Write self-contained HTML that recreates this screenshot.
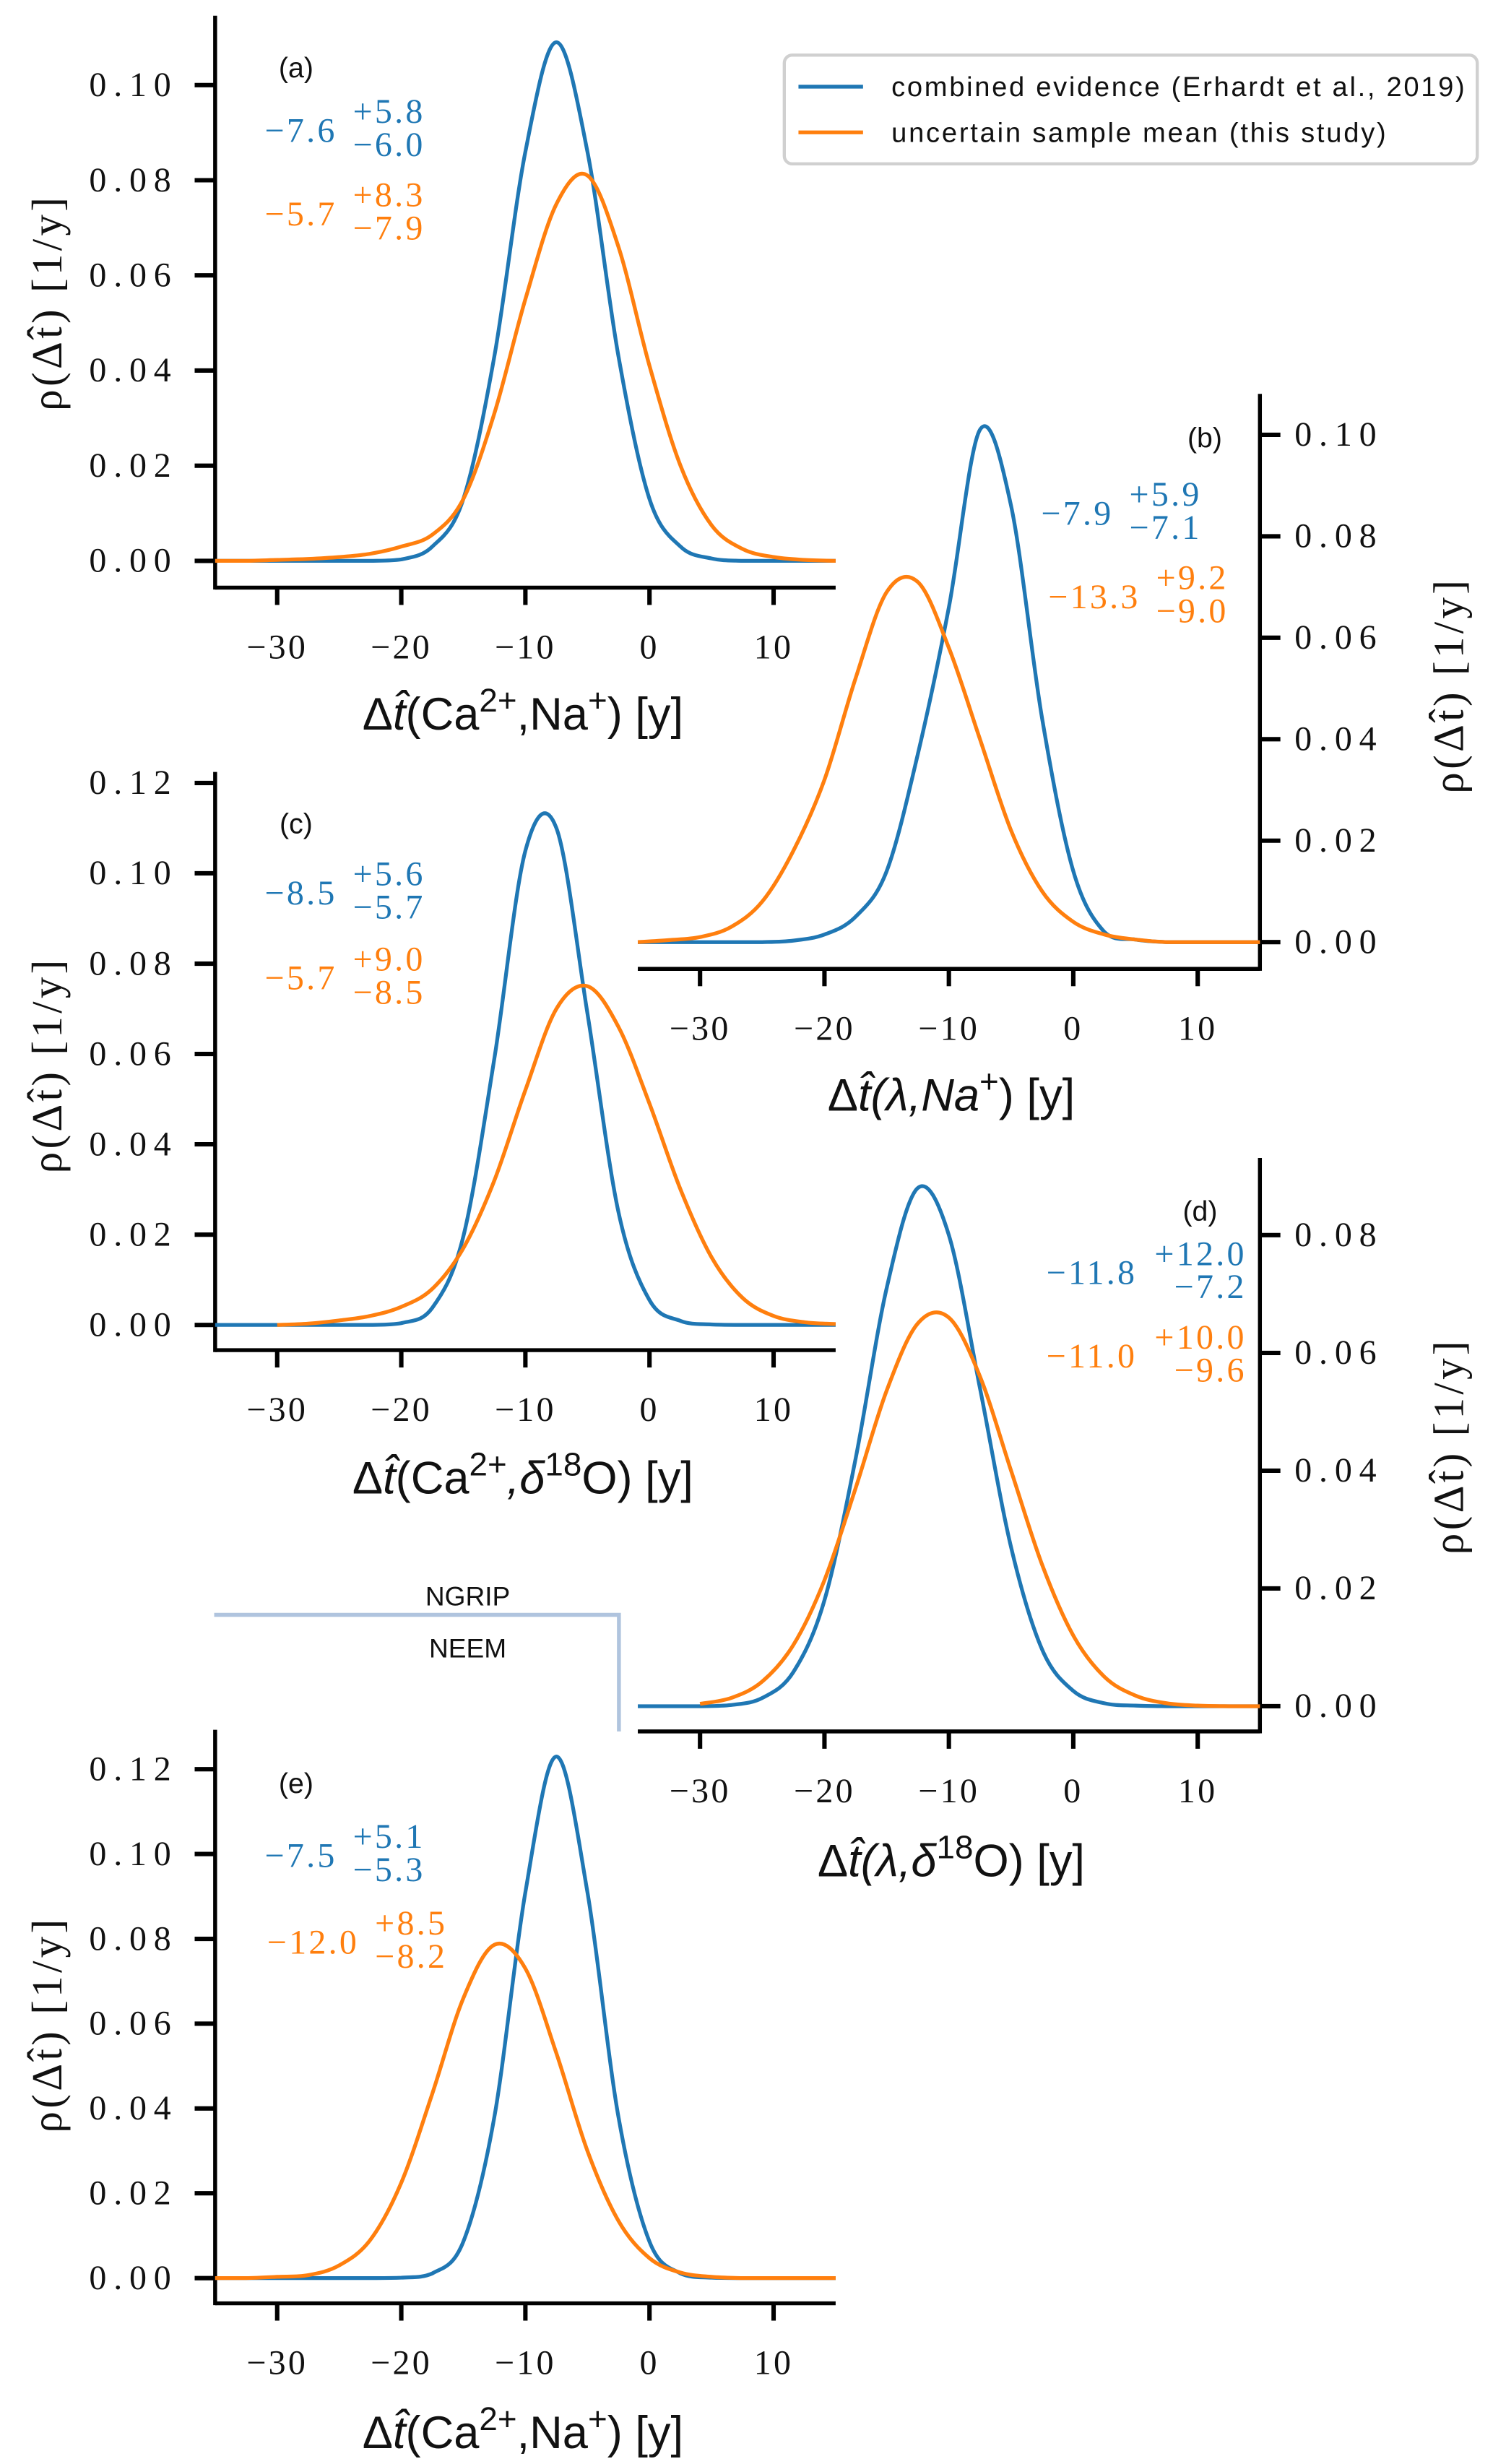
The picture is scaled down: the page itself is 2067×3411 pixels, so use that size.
<!DOCTYPE html>
<html><head><meta charset="utf-8"><style>
html,body{margin:0;padding:0;background:#fff}
svg{display:block}
text{font-family:"Liberation Serif",serif}
.sans{font-family:"Liberation Sans",sans-serif}
</style></head><body>
<svg id="fig" width="2067" height="3411" viewBox="0 0 948 1564" preserveAspectRatio="none" xmlns="http://www.w3.org/2000/svg">
<g>
<rect x="498" y="35" width="440" height="69" rx="5" fill="#fff" stroke="#d0d0d0" stroke-width="2"/>
<line x1="507" y1="55" x2="548" y2="55" stroke="#1f77b4" stroke-width="2.4"/>
<text class="sans" x="566" y="61" font-size="17.5" textLength="364" fill="#111">combined evidence (Erhardt et al., 2019)</text>
<line x1="507" y1="84" x2="548" y2="84" stroke="#ff7f0e" stroke-width="2.4"/>
<text class="sans" x="566" y="90" font-size="17.5" textLength="314" fill="#111">uncertain sample mean (this study)</text>
</g>
<g>
<polyline points="136,1025 393,1025 393,1099" fill="none" stroke="#b0c4de" stroke-width="2.5"/>
<text class="sans" x="297" y="1019" font-size="17" text-anchor="middle" fill="#111">NGRIP</text>
<text class="sans" x="297" y="1052" font-size="17" text-anchor="middle" fill="#111">NEEM</text>
</g>
</svg>
<script>
const xGrid=[-35,-32.5,-30,-27.5,-25,-22.5,-20,-17.5,-15,-12.5,-10,-7.5,-5,-2.5,0,2.5,5,7.5,10,12.5,15];
const aBlue=[0,0,0,0,0,0,0.0003,0.003,0.013,0.043,0.086,0.109,0.086,0.043,0.013,0.003,0.0005,0,0,0,0];
const aOrange=[0,0,0.0002,0.0004,0.0008,0.0015,0.003,0.0055,0.013,0.031,0.055,0.075,0.081,0.066,0.041,0.020,0.0075,0.0025,0.0008,0.0002,0];
const bBlue=[0,0,0,0,0,0.0003,0.0015,0.005,0.014,0.037,0.066,0.101,0.086,0.044,0.014,0.002,0.0005,0,0,0,0];
const bOrange=[0,0.0004,0.001,0.003,0.008,0.018,0.032,0.052,0.069,0.071,0.058,0.040,0.022,0.010,0.004,0.0015,0.0005,0,0,0,0];
const cBlue=[0,0,0,0,0,0,0.0004,0.0038,0.0196,0.059,0.105,0.110,0.069,0.025,0.0055,0.0009,0.0001,0,0,0,0];
const cOrange=[null,null,0,0.0003,0.001,0.002,0.004,0.008,0.017,0.032,0.052,0.070,0.075,0.066,0.049,0.030,0.015,0.006,0.002,0.0006,0.0002];
const dBlue=[0,0,0,0.0002,0.0014,0.0058,0.018,0.042,0.071,0.088,0.080,0.054,0.027,0.0096,0.0026,0.0005,0.0001,0,0,0,0];
const dOrange=[null,null,0.0004,0.0014,0.0042,0.0104,0.0214,0.037,0.0536,0.065,0.066,0.056,0.040,0.024,0.012,0.005,0.0018,0.0005,0.0001,0,0];
const eBlue=[0,0,0,0,0,0,0.0001,0.0011,0.0086,0.038,0.091,0.123,0.091,0.038,0.0086,0.0011,0.0001,0,0,0,0];
const eOrange=[0,0,0.0003,0.0007,0.003,0.009,0.0225,0.0435,0.066,0.0786,0.073,0.053,0.030,0.0135,0.0047,0.0013,0.0003,0,0,0,0];
const xTicks=[-30,-20,-10,0,10];
const yTicksA=[0,0.02,0.04,0.06,0.08,0.10];
const yTicksC=[0,0.02,0.04,0.06,0.08,0.10,0.12];
const yTicksD=[0,0.02,0.04,0.06,0.08];

const NS="http://www.w3.org/2000/svg";
const svg=document.getElementById('fig');
function mk(tag,attrs,parent){const e=document.createElementNS(NS,tag);for(const k in attrs)e.setAttribute(k,attrs[k]);(parent||svg).appendChild(e);return e;}

const panels=[
 {id:'a',side:'left',x0:136.6,x1:530.6,spineY:373,base:356,top:10,ymax:0.10,yTop:54,yTicks:yTicksA,series:[aBlue,aOrange],
  xlabel:['Δ','t̂','(Ca','2+',',Na','+',') [y]'],xlx:332,xly:463,ylcx:30,ylcy:192,lab:[188,49],
  ann:[[214,90,'−7.6','+5.8','−6.0','#1f77b4'],[214,143,'−5.7','+8.3','−7.9','#ff7f0e']]},
 {id:'b',side:'right',x0:405,x1:800,spineY:615,base:598,top:250,ymax:0.10,yTop:276,yTicks:yTicksA,series:[bBlue,bOrange],
  xlabel:['Δ','t̂','(λ,Na','+',') [y]'],xlx:604,xly:705,ylcx:920,ylcy:435,lab:[765,284],
  ann:[[707,333,'−7.9','+5.9','−7.1','#1f77b4'],[724,386,'−13.3','+9.2','−9.0','#ff7f0e']]},
 {id:'c',side:'left',x0:136.6,x1:530.6,spineY:857,base:841,top:490,ymax:0.12,yTop:497,yTicks:yTicksC,series:[cBlue,cOrange],
  xlabel:['Δ','t̂','(Ca','2+',',δ','18','O) [y]'],xlx:332,xly:948,ylcx:30,ylcy:676,lab:[188,529],
  ann:[[214,574,'−8.5','+5.6','−5.7','#1f77b4'],[214,628,'−5.7','+9.0','−8.5','#ff7f0e']]},
 {id:'d',side:'right',x0:405,x1:800,spineY:1099,base:1083,top:735,ymax:0.08,yTop:784,yTicks:yTicksD,series:[dBlue,dOrange],
  xlabel:['Δ','t̂','(λ,δ','18','O) [y]'],xlx:604,xly:1191,ylcx:920,ylcy:918,lab:[762,775],
  ann:[[722,815,'−11.8','+12.0','−7.2','#1f77b4'],[722,868,'−11.0','+10.0','−9.6','#ff7f0e']]},
 {id:'e',side:'left',x0:136.6,x1:530.6,spineY:1462,base:1446,top:1098,ymax:0.12,yTop:1123,yTicks:yTicksC,series:[eBlue,eOrange],
  xlabel:['Δ','t̂','(Ca','2+',',Na','+',') [y]'],xlx:332,xly:1554,ylcx:30,ylcy:1285,lab:[188,1138],
  ann:[[214,1185,'−7.5','+5.1','−5.3','#1f77b4'],[228,1240,'−12.0','+8.5','−8.2','#ff7f0e']]}
];
const colors=['#1f77b4','#ff7f0e'];
const names=['combined-evidence','uncertain-sample-mean'];

function fmt(v){return v.toFixed(2);}
panels.forEach(p=>{
 const g=mk('g',{});
 
 
 const xs=v=>p.x0+(v+35)/50*(p.x1-p.x0);
 const ys=v=>p.base-(v/p.ymax)*(p.base-p.yTop);
 const spineX=p.side==='left'?p.x0:p.x1;
 const ya=mk('line',{x1:spineX,y1:p.top,x2:spineX,y2:p.spineY+1.2,stroke:'#000','stroke-width':2.5},g);
 
 
 const xa=mk('line',{x1:p.x0,y1:p.spineY,x2:p.x1,y2:p.spineY,stroke:'#000','stroke-width':2.5},g);
 
 
 xTicks.forEach(t=>{
  const x=xs(t);
  mk('line',{x1:x,y1:p.spineY,x2:x,y2:p.spineY+11,stroke:'#000','stroke-width':2.8},g);
  const tl=mk('text',{x:x,y:p.spineY+45,'font-size':22,'letter-spacing':1.5,'text-anchor':'middle',fill:'#111'},g);
  tl.textContent=(t<0?'−':'')+Math.abs(t);
  
  
 });
 p.yTicks.forEach(t=>{
  const y=ys(t);
  const dx=p.side==='left'?-13:13;
  mk('line',{x1:spineX,y1:y,x2:spineX+dx,y2:y,stroke:'#000','stroke-width':2.8},g);
  const tl=mk('text',{x:p.side==='left'?spineX-80:spineX+22,y:y+7,'font-size':22,'text-anchor':'start',textLength:52,fill:'#111'},g);
  tl.textContent=fmt(t);
  
  
 });
 p.series.forEach((arr,si)=>{
  const pts=[];
  arr.forEach((v,i)=>{if(v!==null)pts.push([xs(xGrid[i]),ys(v)]);});
  let d='M'+pts[0][0].toFixed(2)+','+pts[0][1].toFixed(2);
  for(let i=0;i<pts.length-1;i++){
   const p0=pts[Math.max(0,i-1)],p1=pts[i],p2=pts[i+1],p3=pts[Math.min(pts.length-1,i+2)];
   const c1x=p1[0]+(p2[0]-p0[0])/6,c1y=Math.min(p.base,p1[1]+(p2[1]-p0[1])/6);
   const c2x=p2[0]-(p3[0]-p1[0])/6,c2y=Math.min(p.base,p2[1]-(p3[1]-p1[1])/6);
   d+=' C'+c1x.toFixed(2)+','+c1y.toFixed(2)+' '+c2x.toFixed(2)+','+c2y.toFixed(2)+' '+p2[0].toFixed(2)+','+p2[1].toFixed(2);
  }
  const path=mk('path',{d:d,fill:'none',stroke:colors[si],'stroke-width':2.4,'stroke-linejoin':'round'},g);
  
  
 });
 const lb=mk('text',{x:p.lab[0],y:p.lab[1],'font-size':18,'text-anchor':'middle',fill:'#111',class:'sans'},g);
 lb.textContent='('+p.id+')';
 
 
 p.ann.forEach((a,ai)=>{
  const [mx,my,m,sp,sb,c]=a;
  const t=mk('text',{x:mx,y:my,'font-size':22,'letter-spacing':1.5,'text-anchor':'end',fill:c},g);
  t.textContent=m;
  
  
  const w=sp.length*13.5+2;
  const s1=mk('text',{x:mx+w,y:my-12,'font-size':22,'letter-spacing':1.5,'text-anchor':'end',fill:c},g);
  s1.textContent=sp;
  
  
  const s2=mk('text',{x:mx+w,y:my+9,'font-size':22,'letter-spacing':1.5,'text-anchor':'end',fill:c},g);
  s2.textContent=sb;
  
  
 });
 const xl=mk('text',{x:p.xlx,y:p.xly,'font-size':29,'text-anchor':'middle',fill:'#111',class:'sans'},g);
 
 
 p.xlabel.forEach((s,i)=>{
  const ts=mk('tspan',{},xl);
  const isSup=(s==='2+'||s==='+'||s==='18');
  if(isSup){ts.setAttribute('baseline-shift','super');ts.setAttribute('font-size','21');}
  if(s==='t̂'||s==='(λ,Na'||s==='(λ,δ'||s===',δ'){ts.setAttribute('font-style','italic');}
  ts.textContent=s;
 });
 const yl=mk('text',{x:0,y:0,'font-size':27,'letter-spacing':2,'text-anchor':'middle',fill:'#111',transform:'translate('+(p.ylcx+9)+','+p.ylcy+') rotate(-90)'},g);
 yl.textContent='ρ(Δt̂) [1/y]';
 
 
});
</script>
</body></html>
